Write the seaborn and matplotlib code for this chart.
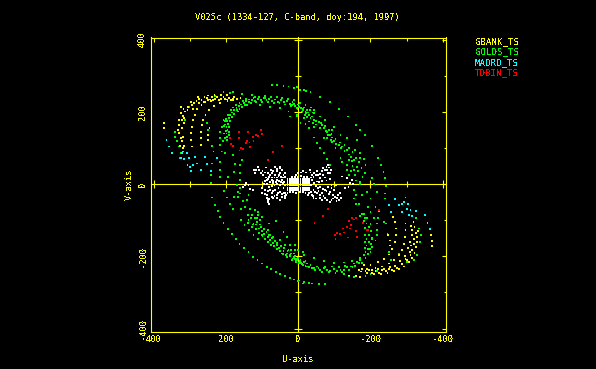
#################
# UV coverage   #
#################

# Import the required packages
import pandas as pd
import seaborn as sns
import matplotlib.pyplot as plt

# Chart values
title = "V025c (1334-127, C-band, doy:194, 1997)"
stations = ["GBANK_TS", "GOLDS_TS", "MADRD_TS", "TDBIN_TS"]
station_colors = ["#ffff00", "#00ff00", "#00ffff", "#ff0000"]
major_ticks = [400, 200, 0, -200, -400]
minor_ticks = [300, 100, -100, -300]
tick_labels = ["400", "200", "0", "-200", "-400"]

# GOLDS_TS (u, v) points
golds_uv = [
    (198,122),(197,131),(199,140),(196,150),(199,158),(195,166),(197,175),(192,182),(188,192),(183,198),
    (178,204),(171,210),(165,215),(158,220),(151,224),(144,229),(136,226),(128,233),(120,230),(112,236),
    (104,232),(96,238),(88,232),(80,236),(72,230),(64,234),(56,228),(48,232),(40,226),(32,230),
    (24,222),(16,226),(8,216),(0,220),(-8,210),(-16,212),(-24,204),(-32,205),
    (202,128),(193,136),(201,147),(192,145),(202,165),(191,158),(200,180),(188,175),(194,190),(183,186),
    (187,204),(178,194),(180,212),(170,204),(172,218),(163,208),(163,224),(155,214),(154,230),(147,218),
    (146,235),(137,234),(130,225),(124,238),(116,226),(108,240),(100,226),(92,243),(84,227),(76,241),
    (68,225),(60,240),(52,224),(44,237),(36,220),(28,235),(20,217),(12,232),(4,210),(-4,225),
    (-12,204),(-20,218),(-28,198),(-36,212),(-40,198),(-44,205),(206,140),(208,120),(206,160),(204,175),
    (217,145),(217,127),(217,108),(212,159),(207,178),(203,85),(217,62),(217,39),(217,20),(180,80),
    (175,56),(161,53),(178,34),(161,30),(194,20),(157,67),(161,11),(170,-3),
    (342,145),(342,131),(337,118),(332,104),(326,85),(314,178),(302,213),(249,150),(249,136),(240,106),
    (254,168),(212,90),(240,57),(242,25),(243,4),(328,71),
    (207,254),(180,254),(157,250),(129,247),(189,252),(231,244),(120,241),(92,237),
    (73,273),(59,273),(41,272),(27,270),(13,266),(-5,261),(-21,258),
    (106,219),(78,213),(50,210),(27,201),(4,192),(-15,182),(-29,173),(143,219),(166,201),
    (3,268),(-15,261),(-34,255),(-61,241),(-87,226),(-112,208),(-137,187),(-160,164),(-184,136),(-205,105),
    (-221,73),(-230,53),(-236,34),(-240,17),
    (17,218),(8,215),(2,208),(-10,201),(-22,196),(-29,192),(-34,182),(-43,178),(-57,171),(-66,164),
    (-71,155),(-80,145),(-87,136),(-94,129),(-98,118),(-112,108),(-122,104),(-135,94),(-145,76),(-140,67),
    (-154,67),(-163,48),(-158,25),(-172,6),(-135,39),(-140,25),(-149,11),
    (12,222),(-3,214),(-14,207),(-18,190),(-25,186),(-38,187),(-40,170),(-50,175),(-50,165),(-62,168),
    (-60,155),(-75,160),(-76,148),(-85,150),(-82,135),(-92,138),(-90,122),(-103,125),(-105,112),(-115,115),
    (-118,100),(-128,108),(-128,92),(-140,100),(-140,82),(-150,88),(-148,65),(-160,72),(-168,60),(-150,50),
    (-145,35),(-165,35),(-175,45),(-178,20),(-160,10),
    (-20,199),(-43,196),(-61,187),(-75,178),(-98,159),(-117,136),(-135,127),(-158,94),(-171,85),(-182,69),
    (-186,53),(-184,30),(-205,16),(22,187),(3,187),(-6,168),(-20,166),(-29,156),(-43,159),(-43,129),
    (-52,113),(-61,101),(-71,85),(-80,69),(-89,53),(-117,73),(-122,60),(-135,53),(-154,39),(-172,73),
    (-163,122),(-172,150),(-94,150),(-71,127),(-80,127),(-94,116),(-103,101),
    (238,-37),(230,-57),(223,-74),(216,-91),(207,-107),(195,-125),(184,-139),(173,-153),(163,-166),(151,-178),
    (138,-189),(126,-201),(113,-211),(101,-220),(87,-229),(75,-236),(62,-243),(50,-248),(36,-254),(23,-260),
    (11,-264),(0,-268),(-14,-275),
    (138,-100),(124,-109),(118,-112),(110,-123),(101,-130),(94,-137),(85,-146),(78,-155),(69,-162),(60,-169),
    (53,-178),(41,-185),(32,-192),(23,-200),(13,-206),(4,-211),(-5,-213),(-14,-224),(9,-200),(27,-183),
    (46,-192),(35,-197),
    (130,-95),(140,-108),(115,-105),(128,-118),(105,-112),(117,-125),(95,-125),(108,-135),(88,-132),(100,-142),
    (80,-142),(92,-152),(72,-150),(84,-160),(65,-158),(76,-168),(58,-162),(68,-172),(48,-172),(60,-180),
    (40,-178),(50,-186),(30,-186),(42,-194),(20,-192),(32,-202),(10,-208),(18,-210),(0,-205),(6,-216),
    (-8,-218),(-20,-212),(-25,-228),
    (161,-26),(166,-35),(152,-47),(143,-45),(138,-31),(177,-35),(189,-54),(180,-70),(158,-68),(147,-63),
    (133,-68),(121,-72),(112,-77),(158,-100),(149,-114),(126,-112),(136,-128),(124,-140),(112,-151),(99,-144),
    (83,-128),(62,-103),(81,-109),(41,-132),(69,-146),(32,-146),(50,-155),(36,-169),(23,-169),(9,-169),
    (20,-183),(11,-192),(-14,-188),(0,-183),(106,-100),(101,-91),(103,-118),(78,-141),(205,-20),(129,-86),
    (115,-95),(112,-86),(140,-86),(121,-95),(166,-21),(198,-37),(161,-12),
    (22,-197),(13,-202),(3,-207),(-6,-211),(-15,-216),(-24,-220),(-34,-225),(-43,-232),(-52,-228),(-61,-237),
    (-71,-232),(-80,-237),(-89,-241),(-98,-234),(-108,-241),(-117,-237),(-126,-237),(-135,-230),(-145,-228),(-154,-220),
    (-163,-216),(-172,-209),(-182,-197),(-186,-188),(-193,-179),(-189,-170),(-196,-160),(-189,-151),(-196,-142),(-191,-128),
    (-196,-119),(-189,-109),(-184,-95),(-177,-82),
    (16,-208),(7,-212),(-2,-218),(-11,-221),(-20,-226),(-29,-230),(-38,-232),(-47,-238),(-56,-233),(-66,-243),
    (-75,-229),(-84,-244),(-94,-228),(-103,-246),(-112,-230),(-121,-244),(-130,-226),(-140,-238),(-150,-230),(-158,-226),
    (-168,-218),(-177,-218),(-186,-204),(-192,-194),(-199,-180),(-184,-178),(-202,-166),(-184,-160),(-203,-148),(-185,-140),
    (-201,-130),(-184,-122),(-200,-110),(-182,-102),(-190,-95),(-172,-88),(-182,-84),
    (8,-183),(-15,-197),(-43,-204),(-71,-214),(-98,-219),(-126,-217),(-149,-214),(-172,-204),
    (22,-260),(-3,-267),(-15,-272),(-29,-274),(-38,-275),(-57,-276),(-73,-276),(-126,-250),(-140,-255),(-154,-256),
    (-186,-255),(-200,-248),(-219,-241),(-256,-211),(-279,-193),
    (-219,-128),(-217,-109),(-210,-95),(-200,-77),(-205,-174),(-205,-151),(-214,-156),(-217,-142),(-200,-188),(-247,-137),
    (-242,-109),(-253,-170),(-251,-188),(-334,-123),(-339,-142),(-337,-160),(-330,-197),(-321,-211),(-325,-95),(-302,-216),
    (-154,-17),(-154,-40),(-159,-54),(-168,-56),(-177,-31),(-191,-21),(-217,-21),(-240,-26),(-240,-40),(-200,-40),
    (-214,-63),(-193,-63),(-180,-82),(-221,-93),(-237,-105),(-209,0),(-242,-6),(-159,-31),(-172,0),
]

# GBANK_TS (u, v) points
gbank_uv = [
    (320,99),(317,106),(323,118),(319,130),(330,141),(323,155),(330,164),(323,178),(320,189),(313,201),
    (305,213),(295,219),(282,229),(268,233),(254,237),(240,240),(224,240),(207,241),(191,239),(170,235),
    (275,236),(260,240),(245,234),(230,236),(215,236),(198,234),(182,236),
    (328,105),(326,128),(334,150),(316,170),(330,178),(316,182),(326,196),(307,206),(318,208),(298,226),
    (288,224),(276,224),(262,228),(250,232),(236,233),(220,233),(203,236),(186,232),(250,245),(232,246),
    (214,246),(198,246),(178,240),(160,238),(278,240),
    (295,104),(298,122),(298,141),(295,159),(291,178),(286,192),(280,207),(268,219),(257,227),(243,231),
    (270,108),(270,127),(270,145),(266,164),(263,178),(257,192),(247,206),(233,217),(217,224),(196,231),(180,233),
    (371,168),(371,155),(326,213),(291,207),(249,136),(249,122),(246,155),
    (-168,-237),(-186,-241),(-205,-245),(-223,-245),(-242,-241),(-260,-237),(-274,-232),(-288,-222),(-302,-211),(-311,-197),
    (-316,-183),(-321,-165),(-321,-151),(-325,-135),(-322,-119),(-319,-105),
    (-177,-235),(-196,-239),(-214,-241),(-233,-239),(-251,-235),(-297,-207),(-310,-188),(-313,-170),(-328,-146),(-316,-126),
    (-173,-242),(-191,-245),(-209,-249),(-228,-249),(-247,-245),(-265,-241),(-280,-236),(-293,-228),(-306,-216),(-315,-204),
    (-322,-190),(-326,-175),(-328,-160),(-332,-130),(-312,-115),(-314,-140),(-310,-160),(-305,-178),(-296,-198),(-282,-214),
    (-268,-226),(-255,-229),(-238,-234),(-220,-236),(-205,-238),(-190,-234),
    (-297,-109),(-297,-128),(-296,-146),(-293,-165),(-288,-183),(-279,-197),(-265,-211),(-251,-220),(-233,-228),(-214,-232),
    (-267,-105),(-271,-123),(-270,-142),(-267,-160),(-260,-179),(-251,-195),(-237,-207),(-221,-216),(-200,-225),(-182,-225),
    (-172,-258),(-159,-255),(-140,-253),(-249,-142),(-254,-156),(-253,-170),(-367,-142),(-371,-158),(-371,-172),(-263,-91),
]

# MADRD_TS (u, v) points
madrd_uv = [
    (365,122),(359,104),(351,85),(323,85),(319,90),(309,85),(326,71),(316,69),(302,71),(307,53),
    (300,48),(291,53),(298,36),(280,57),(258,74),(252,55),(270,39),(243,37),(226,71),(235,90),(286,76),
    (-251,-58),(-256,-77),(-267,-42),(-279,-58),(-288,-54),(-293,-49),(-297,-37),(-304,-54),(-288,-77),(-302,-70),
    (-311,-72),(-307,-86),(-316,-89),(-325,-74),(-350,-86),(-358,-107),(-364,-125),(-223,-74),
]

# TDBIN_TS (u, v) points
tdbin_uv = [
    (165,145),(139,145),(104,150),(100,139),(117,136),(111,133),(126,131),(189,127),(164,127),(141,120),
    (135,115),(124,120),(144,113),(187,110),(182,106),(159,99),(154,96),(163,93),(133,102),(45,106),
    (69,88),(84,67),(210,90),
    (-45,-108),(-68,-89),(-83,-70),(-101,-142),(-108,-135),(-115,-139),(-103,-152),(-126,-134),(-137,-148),(-163,-146),
    (-124,-123),(-134,-119),(-143,-123),(-145,-114),(-140,-102),(-154,-98),(-160,-95),(-149,-95),(-161,-130),(-180,-108),
    (-189,-128),(-193,-128),(-223,-72),
]

# White points around the centre (unlabelled short baselines)
short_uv = [
    (30,14),(24,14),(18,14),(12,14),(6,14),(0,14),(-6,14),(-12,14),(-18,14),(-24,14),(-30,14),
    (30,8),(24,8),(18,8),(12,8),(6,8),(0,8),(-6,8),(-12,8),(-18,8),(-24,8),(-30,8),
    (30,2),(24,2),(18,2),(12,2),(6,2),(0,2),(-6,2),(-12,2),(-18,2),(-24,2),(-30,2),
    (30,-4),(24,-4),(18,-4),(12,-4),(6,-4),(0,-4),(-6,-4),(-12,-4),(-18,-4),(-24,-4),(-30,-4),
    (30,-10),(24,-10),(18,-10),(12,-10),(6,-10),(0,-10),(-6,-10),(-12,-10),(-18,-10),(-24,-10),(-30,-10),
    (30,-16),(24,-16),(18,-16),(12,-16),(6,-16),(0,-16),(-6,-16),(-12,-16),(-18,-16),(-24,-16),(-30,-16),
    (18,20),(10,20),(2,20),(-8,22),(-16,20),(-24,20),(22,-22),(14,-22),(6,-24),(-4,-22),(-12,-22),(-20,-24),
    (120,30),(122,39),(111,47),(97,25),(99,37),(89,46),(83,30),(69,35),(51,44),(64,25),
    (78,25),(55,21),(41,25),(60,35),(51,30),(64,48),(51,48),(87,12),(74,12),(60,12),
    (46,12),(69,2),(147,-2),(152,-9),(145,4),(138,-2),(126,-16),(134,-14),
    (36,20),(42,18),(48,20),(54,26),(58,18),(66,18),(72,18),(80,20),(84,14),(90,18),
    (92,8),(78,6),(70,8),(62,6),(54,8),(48,6),(40,6),(36,-4),(42,2),(50,-2),
    (58,0),(66,-4),(74,-6),(82,-8),(86,0),(94,0),(100,-12),(92,-16),(84,-20),(92,-28),
    (70,-20),(56,-24),(46,-28),(38,-32),(30,-24),(34,-30),(66,-32),(74,-36),(80,-42),(84,-50),
    (60,-38),(100,-24),(104,30),(108,38),(116,38),(92,32),(76,38),(58,42),(46,40),(38,30),(74,30),
    (87,-30),(74,-25),(60,-30),(46,-35),(37,-39),(78,-16),(64,-16),(51,-21),(41,-25),(85,-44),
    (80,-55),(86,-39),(69,-39),(51,-44),(37,-25),(55,-12),(41,-12),
    (0,30),(-14,35),(-32,39),(-51,35),(-69,44),(-83,53),(-37,25),(-55,25),(-69,25),(-83,30),
    (-60,16),(-37,12),(-51,7),(-79,39),(-88,30),
    (-36,18),(-42,20),(-48,24),(-44,30),(-60,28),(-66,36),(-74,38),(-78,48),(-86,46),(-90,38),
    (-74,18),(-66,8),(-78,10),(-88,14),(-58,6),(-44,4),(-36,-2),(-50,-6),(-60,-8),(-68,-14),
    (-78,-20),(-84,-28),(-66,-24),(-56,-20),(-46,-22),(-36,-22),(-30,-24),(-40,-34),(-50,-40),(-60,-38),
    (-70,-34),(-80,-44),(-88,-50),(-96,-40),(-102,-36),(-108,-38),(-112,-44),(-115,-24),(-100,-16),(-92,-10),
    (-104,-4),(-34,32),(-22,32),(-8,32),(6,24),
    (-28,-30),(-42,-39),(-60,-30),(-74,-16),(-88,-21),(-74,-39),(-92,-44),(-97,-30),(-65,-44),(-111,-30),
    (-118,-39),(-106,-48),(-42,-16),(-55,-12),(-37,-30),(-51,-25),(-83,-7),(-92,-2),
    (-143,2),(-148,12),(-139,-7),(-129,-12),(-120,21),(-134,16),(-152,0),
]

# Build the Data (drawing order: green under yellow, white last)
frames = []
for name, points in [("GOLDS_TS", golds_uv), ("GBANK_TS", gbank_uv), ("MADRD_TS", madrd_uv),
                     ("TDBIN_TS", tdbin_uv), ("short", short_uv)]:
    frame = pd.DataFrame(points, columns=["U", "V"])
    frame["station"] = name
    frames.append(frame)
uv_data = pd.concat(frames, ignore_index=True)
palette = dict(zip(stations, station_colors))
palette["short"] = "#ffffff"

# Build the Figure
sns.set_theme(style="white", rc={"axes.facecolor": "black", "figure.facecolor": "black"})
plt.rcParams["font.family"] = ["DejaVu Sans Mono"]
plt.rcParams["text.antialiased"] = False
plt.rcParams["lines.antialiased"] = False
plt.rcParams["axes.unicode_minus"] = False

fig = plt.figure(figsize=(5.96, 3.69), dpi=100)
ax = fig.add_axes([150.5 / 596, 1 - 331.5 / 369, 295 / 596, 294 / 369])
yellow = "#ffff00"

sns.scatterplot(data=uv_data, x="U", y="V", hue="station", palette=palette, marker="s", s=1.8,
                linewidth=0, legend=False, antialiased=False, zorder=3, ax=ax)

# Axis
ax.set_xlim(409.4, -407.8)
ax.set_ylim(-408, 405.6)
ax.set_xticks(major_ticks, labels=tick_labels)
ax.set_yticks(major_ticks, labels=tick_labels)
ax.set_xticks(minor_ticks, minor=True)
ax.set_yticks(minor_ticks, minor=True)
ax.tick_params(which="major", direction="in", top=True, right=True, length=2.9, width=0.8, color=yellow,
               labelcolor=yellow, labelsize=6.3, pad=2.5)
ax.tick_params(which="minor", direction="in", top=True, right=True, length=1.8, width=0.8, color=yellow)
plt.setp(ax.get_yticklabels(), rotation=90, va="center")
ax.set_xlabel("U-axis", color=yellow, size=6.3, labelpad=8)
ax.set_ylabel("V-axis", color=yellow, size=6.3, labelpad=3)
for spine in ax.spines.values():
    spine.set_color(yellow)
    spine.set_linewidth(0.8)

# Zero lines, with their own ticks
x_zero = ax.secondary_xaxis(0, transform=ax.transData)
y_zero = ax.secondary_yaxis(0, transform=ax.transData)
for zero_axis, set_ticks in [(x_zero, x_zero.set_xticks), (y_zero, y_zero.set_yticks)]:
    set_ticks(major_ticks, labels=[])
    set_ticks(minor_ticks, minor=True)
    zero_axis.tick_params(which="major", direction="inout", length=6, width=0.8, color=yellow)
    zero_axis.tick_params(which="minor", direction="inout", length=4, width=0.8, color=yellow)
    zero_axis.set_zorder(2)
    for spine in zero_axis.spines.values():
        spine.set_color(yellow)
        spine.set_linewidth(0.8)

# Figure
fig.text(297.5 / 596, 1 - 17 / 369, title, color=yellow, size=6.3, ha="center", va="center")

# Station names at the right
legend_y = [41.5, 52, 62.5, 73]
for name, color, y in zip(stations, station_colors, legend_y):
    fig.text(475 / 596, 1 - y / 369, name, color=color, size=6.6, ha="left", va="center")

# Save Figure
fig.savefig("out.png", dpi=100, facecolor="black")
